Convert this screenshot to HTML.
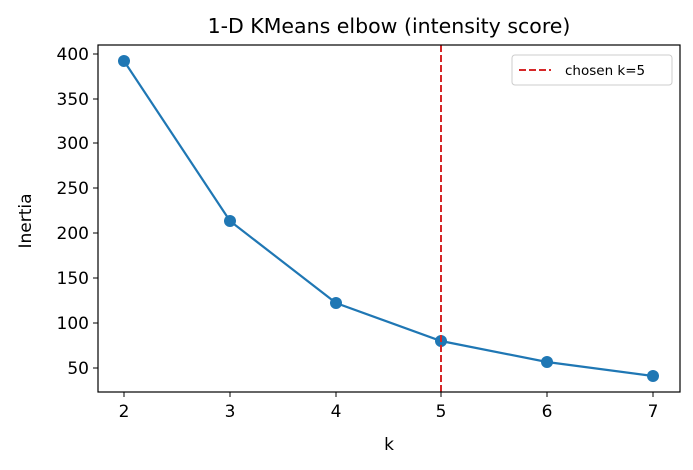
<!DOCTYPE html>
<html><head><meta charset="utf-8"><style>body{margin:0;background:#fff}svg{display:block}text{font-family:"DejaVu Sans","Liberation Sans",sans-serif;fill:#000}</style></head><body>
<svg width="693" height="470" viewBox="0 0 693 470">
<text x="389" y="33" font-size="20.5" text-anchor="middle">1-D KMeans elbow (intensity score)</text>
<g stroke="#000" stroke-width="1">
<line x1="124" y1="392" x2="124" y2="397"/><line x1="230" y1="392" x2="230" y2="397"/><line x1="336" y1="392" x2="336" y2="397"/><line x1="441" y1="392" x2="441" y2="397"/><line x1="547" y1="392" x2="547" y2="397"/><line x1="653" y1="392" x2="653" y2="397"/>
<line x1="93" y1="54" x2="98" y2="54"/><line x1="93" y1="99" x2="98" y2="99"/><line x1="93" y1="143" x2="98" y2="143"/><line x1="93" y1="188" x2="98" y2="188"/><line x1="93" y1="233" x2="98" y2="233"/><line x1="93" y1="278" x2="98" y2="278"/><line x1="93" y1="323" x2="98" y2="323"/><line x1="93" y1="368" x2="98" y2="368"/>
</g>
<g font-size="17" text-anchor="middle">
<text x="124" y="417">2</text><text x="230" y="417">3</text><text x="336" y="417">4</text><text x="441" y="417">5</text><text x="547" y="417">6</text><text x="653" y="417">7</text>
<text x="389" y="450">k</text>
</g>
<g font-size="17" text-anchor="end">
<text x="89" y="60">400</text><text x="89" y="105">350</text><text x="89" y="149">300</text><text x="89" y="194">250</text><text x="89" y="239">200</text><text x="89" y="284">150</text><text x="89" y="329">100</text><text x="89" y="374">50</text>
</g>
<text transform="translate(31,221) rotate(-90)" font-size="17" text-anchor="middle">Inertia</text>
<polyline points="124,61 230,221 336,303 441,341 547,362 653,376" fill="none" stroke="#1f77b4" stroke-width="2.2"/>
<g fill="#1f77b4"><circle cx="124" cy="61" r="6"/><circle cx="230" cy="221" r="6"/><circle cx="336" cy="303" r="6"/><circle cx="441" cy="341" r="6"/><circle cx="547" cy="362" r="6"/><circle cx="653" cy="376" r="6"/></g>
<line x1="441" y1="45" x2="441" y2="392" stroke="#d62728" stroke-width="2" stroke-dasharray="7,3"/>
<rect x="98" y="45" width="582" height="347" fill="none" stroke="#000" stroke-width="1.2"/>
<rect x="512" y="55" width="160" height="30" rx="3" fill="#fff" stroke="#ccc"/>
<line x1="519" y1="70" x2="551" y2="70" stroke="#d62728" stroke-width="2" stroke-dasharray="7,3"/>
<text x="565" y="75" font-size="13.5">chosen k=5</text>
</svg>
</body></html>
